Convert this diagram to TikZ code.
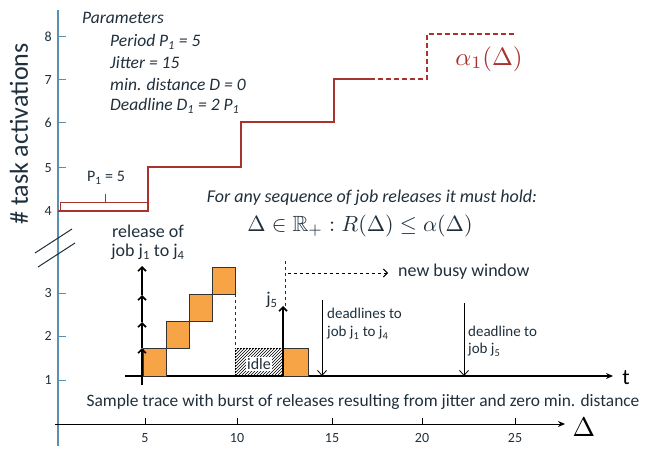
\documentclass[tikz,border=0pt]{standalone}
\usepackage{amsmath,amssymb}
\usepackage{graphicx}
\usepackage{fontspec}
\setmainfont{Carlito}
\usetikzlibrary{arrows.meta,patterns}
\definecolor{alphared}{HTML}{A8322C}
\definecolor{axisblue}{HTML}{5B8FB0}
\definecolor{txt}{HTML}{1F2F3C}
\definecolor{boxorange}{HTML}{F6A445}
\newcommand{\sbs}[1]{\textsubscript{#1}}
\tikzset{
  lbl/.style={inner sep=0pt, text=txt, font=\fontsize{18}{21}\selectfont},
  small/.style={inner sep=0pt, text=txt, font=\fontsize{15}{18}\selectfont},
  tick/.style={inner sep=0pt, text=txt, font=\fontsize{14}{16}\selectfont},
  param/.style={inner sep=0pt, anchor=west, text=txt, font=\fontsize{17.5}{20}\selectfont\itshape},
  alpha/.style={draw=alphared, line width=1.6pt},
  jobbox/.style={fill=boxorange, draw=black!80, line width=0.8pt},
  arr/.style={-{Stealth[length=7pt,width=6pt]}},
  barb/.style={-{Straight Barb[length=4pt,width=8pt]}, line width=1.6pt},
}
\begin{document}
\begin{tikzpicture}[x=1pt,y=-1pt]
\useasboundingbox (0,0) rectangle (650,449);
% y axis
\draw[axisblue, line width=1.2pt] (58,10) -- (58,446);
\foreach \v/\y in {8/37,7/80,6/123,5/168,4/211,3/293,2/336,1/380}{
  \draw[axisblue, line width=1pt] (58,\y) -- (66,\y);
  \node[tick, anchor=east] (yt\v) at (52,\y) {\v};
}
\draw[txt, line width=1pt] (35,253) -- (72,229);
\draw[txt, line width=1pt] (38,267) -- (75,243);
\node[inner sep=0pt, text=txt, rotate=90, font=\fontsize{26}{28}\selectfont] (ylab) at (19,134) {\# task activations};
% Delta axis
\coordinate (dx0) at (55,424);
\coordinate (dx1) at (565,424);
\draw[arr, line width=1pt] (dx0) -- (dx1);
\node[inner sep=0pt, anchor=west, scale=2.7] (dlab) at (572,427) {$\Delta$};
\foreach \v/\x in {5/145,10/237,15/332,20/422,25/515}{
  \draw[line width=0.8pt] (\x,418) -- (\x,424);
  \node[tick] (xt\v) at (\x,438) {\v};
}
% parameters
\node[param] (par) at (82,18) {Parameters};
\node[param] (p1) at (110,42) {Period P\sbs{1} = 5};
\node[param] (p2) at (110,63) {Jitter = 15};
\node[param] (p3) at (110,84) {min. distance D = 0};
\node[param] (p4) at (110,106) {Deadline D\sbs{1} = 2 P\sbs{1}};
% alpha curve
\draw[alpha, line join=miter] (58,211) -- (148,211) -- (148,167) -- (241,167) -- (241,122) -- (334,122) -- (334,79) -- (370,79);
\draw[alpha, dashed, dash pattern=on 5pt off 3pt] (370,79) -- (427,79) -- (427,34) -- (514,34);
\node[inner sep=0pt, text=alphared, scale=2.5] (alab) at (489,59) {$\alpha_1(\Delta)$};
% P1 bracket
\draw[alphared, line width=1pt] (60,211) -- (60,202) -- (148,202) -- (148,211);
\draw[alphared, line width=1pt] (105,202) -- (105,194);
\node[inner sep=0pt, text=txt, font=\fontsize{16}{18}\selectfont] (p1lab) at (106,178) {P\sbs{1} = 5};
% statement
\node[inner sep=0pt, text=txt, font=\fontsize{18}{21}\selectfont\itshape] (stmt) at (372,198) {For any sequence of job releases it must hold:};
\node[inner sep=0pt, text=txt, scale=2.2] (formula) at (360,226) {$\Delta \in \mathbb{R}_+ : R(\Delta) \leq \alpha(\Delta)$};
% trace
\coordinate (t0) at (125,376);
\coordinate (t1) at (613,376);
\draw[arr, line width=1.3pt] (t0) -- (t1);
\node[inner sep=0pt, font=\fontsize{22}{24}\selectfont] (tlab) at (626,378) {t};
\draw[jobbox] (143,348) rectangle (166,376);
\draw[jobbox] (166,321) rectangle (189,348);
\draw[jobbox] (189,294) rectangle (212,321);
\draw[jobbox] (212,267) rectangle (235,294);
\draw[dashed, txt, line width=0.8pt] (235,294) -- (235,348);
\fill[pattern=north east lines] (235,348) rectangle (283,376);
\draw[dashed, line width=0.8pt, dash pattern=on 2pt off 1pt] (235,376) -- (235,348) -- (283,348);
\node[inner sep=1pt, fill=white, text=txt, font=\fontsize{16}{18}\selectfont] (idle) at (259,364) {idle};
\draw[jobbox] (283,348) rectangle (308,376);
% releases
\coordinate (r0) at (142,385);
\coordinate (r1) at (142,348);
\coordinate (r2) at (142,322);
\coordinate (r3) at (142,295);
\coordinate (r4) at (142,266);
\draw[barb] (r0) -- (r1);
\draw[barb] (r1) -- (r2);
\draw[barb] (r2) -- (r3);
\draw[barb] (r3) -- (r4);
\node[lbl] (rel1) at (148,231) {release of};
\node[lbl] (rel2) at (148,252) {job j\sbs{1} to j\sbs{4}};
% j5
\coordinate (j5a) at (283,376);
\coordinate (j5b) at (283,306);
\draw[barb] (j5a) -- (j5b);
\node[lbl] (j5lab) at (272,300) {j\sbs{5}};
\coordinate (bw0) at (285,261);
\draw[dashed, txt, line width=0.8pt] (bw0) -- (285,306);
\coordinate (nb0) at (288,273);
\coordinate (nb1) at (388,273);
\draw[dashed, line width=0.9pt, -{Straight Barb[length=4pt,width=8pt]}] (nb0) -- (nb1);
\node[lbl, anchor=west] (nbw) at (398,272) {new busy window};
% deadlines
\coordinate (d1a) at (322,300);
\coordinate (d1b) at (322,376);
\draw[line width=0.8pt, -{Straight Barb[length=5pt,width=9pt]}] (d1a) -- (d1b);
\node[small, anchor=west] (dl1) at (327,313) {deadlines to};
\node[small, anchor=west] (dl2) at (327,333) {job j\sbs{1} to j\sbs{4}};
\coordinate (d2a) at (464,303);
\coordinate (d2b) at (464,376);
\draw[line width=0.8pt, -{Straight Barb[length=5pt,width=9pt]}] (d2a) -- (d2b);
\node[small, anchor=west] (dl3) at (468,331) {deadline to};
\node[small, anchor=west] (dl4) at (468,350) {job j\sbs{5}};
% caption
\node[inner sep=0pt, text=txt, font=\fontsize{17.4}{20}\selectfont] (cap) at (363,402) {Sample trace with burst of releases resulting from jitter and zero min. distance};
\end{tikzpicture}
\end{document}
